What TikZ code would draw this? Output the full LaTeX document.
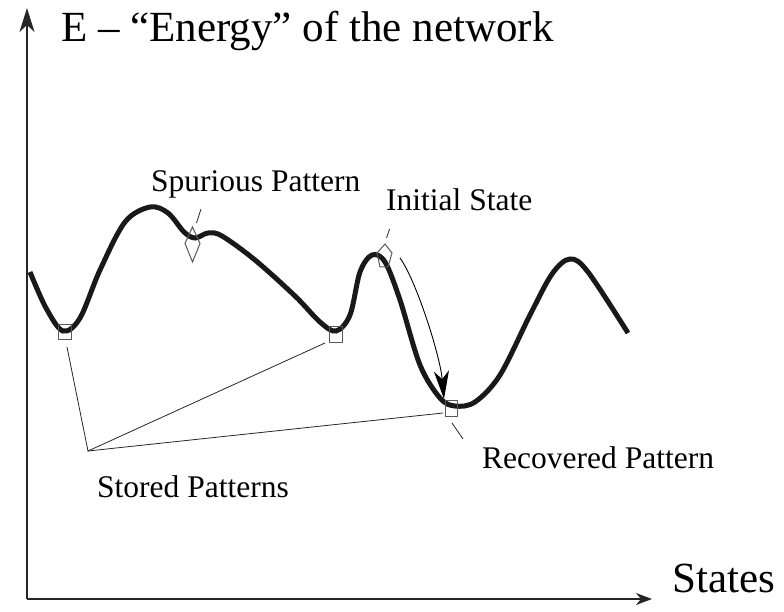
\documentclass[tikz,border=0pt]{standalone}
\usepackage{fontspec}
\setmainfont{Liberation Serif}
\usetikzlibrary{arrows.meta}
\tikzset{
  axisline/.style={line width=1.2pt, draw=black!85},
  energy/.style={line width=5pt, draw=black!90},
  marker/.style={draw=black!65, line width=1pt, inner sep=0pt, fill=none},
  leader/.style={line width=0.8pt, draw=black!85},
  lbl/.style={font=\fontsize{31.5}{36}\selectfont, inner sep=0pt},
  biglbl/.style={font=\fontsize{43}{48}\selectfont, inner sep=0pt}
}
\begin{document}
\begin{tikzpicture}[x=1pt,y=-1pt]
\useasboundingbox (0,0) rectangle (784,612);
% axes
\coordinate (O) at (27,599);
\coordinate (Ytop) at (27,8);
\coordinate (Xend) at (652,599);
\draw[axisline, -{Stealth[length=24pt,width=15pt,inset=7pt]}] (O) -- (Ytop);
\draw[axisline, -{Stealth[length=16pt,width=12pt,inset=5pt]}] (O) -- (Xend);
\node[biglbl, anchor=base west] (title) at (61,42) {E – “Energy” of the network};
\node[biglbl, anchor=base west] (states) at (672,592) {States};
% energy curve
\draw[energy] plot[smooth, tension=0.55] coordinates {
 (30,272) (46,308) (63,331) (80,318) (100,270) (125,222) (150,207) (168,213)
 (184,232) (195,238) (208,233) (222,236) (255,260) (295,296) (320,322) (336,331)
 (350,315) (360,272) (372,255) (385,262) (400,300) (420,365) (440,398) (455,406)
 (475,402) (500,375) (530,315) (552,274) (570,259) (588,272) (628,333)};
% markers
\node[marker, minimum width=13pt, minimum height=15pt] (s1) at (65,332) {};
\node[marker, minimum width=13pt, minimum height=16pt] (s2) at (336,334) {};
\node[marker, minimum width=12pt, minimum height=16pt] (s3) at (451,408) {};
\draw[marker] (192.5,227) -- (200,243.5) -- (192.5,262) -- (185,243.5) -- cycle;
\draw[marker] (377,253) -- (385,244) -- (392,253) -- (388,267) -- (380,267) -- cycle;
% leader ticks
\coordinate (spA) at (196.5,223);
\coordinate (spB) at (201,209);
\draw[leader] (spA) -- (spB);
\coordinate (inA) at (386.5,238);
\coordinate (inB) at (389.5,229);
\draw[leader] (inA) -- (inB);
\coordinate (reA) at (452,423);
\coordinate (reB) at (463,439);
\draw[leader] (reA) -- (reB);
% stored pattern lines
\coordinate (hub) at (88,451);
\coordinate (h1) at (67,347);
\coordinate (h2) at (325,343);
\coordinate (h3) at (443,413);
\draw[leader] (h1) -- (hub) -- (h2);
\draw[leader] (hub) -- (h3);
% descent arrow
\coordinate (arS) at (400,258);
\coordinate (arE) at (444,399);
\draw[line width=0.9pt, -{Stealth[length=28pt,width=15pt,inset=8pt]}] (arS) .. controls (416,280) and (440,355) .. (arE);
% labels
\node[lbl, anchor=base west] (spur) at (151,192) {Spurious Pattern};
\node[lbl, anchor=base west] (init) at (386,211) {Initial State};
\node[lbl, anchor=base west] (rec) at (482,468) {Recovered Pattern};
\node[lbl, anchor=base west] (stor) at (97,497) {Stored Patterns};
\end{tikzpicture}
\end{document}
